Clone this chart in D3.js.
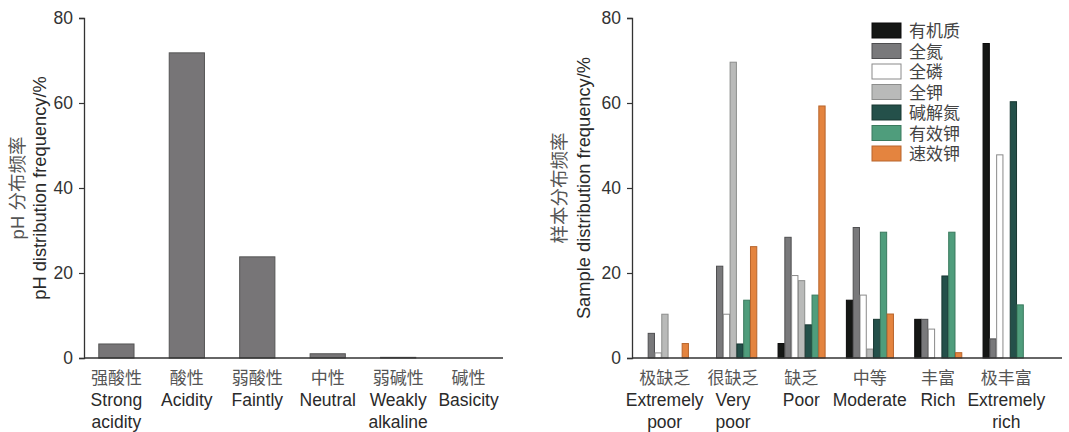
<!DOCTYPE html>
<html><head><meta charset="utf-8">
<script src="https://cdn.jsdelivr.net/npm/d3@7"></script>
<style>
html,body{margin:0;padding:0;background:#fff;}
svg{display:block;}
text{font-family:"Liberation Sans",Arial,"Noto Sans CJK SC",sans-serif;}
.cn{font-family:"Noto Sans CJK SC",sans-serif;}
.leg{font-family:"Liberation Sans","Noto Sans CJK SC",sans-serif;}
</style></head>
<body>
<svg id="chart" width="1069" height="432"></svg>
<script>
// ---------- Data ----------
const pHCategories = ["强酸性","酸性","弱酸性","中性","弱碱性","碱性"];
const pHLabelsEn = [["Strong","acidity"],["Acidity"],["Faintly"],["Neutral"],["Weakly","alkaline"],["Basicity"]];
const pHValues = [3.3, 71.8, 23.8, 1.0, 0.15, 0];

const gradeCategories = ["极缺乏","很缺乏","缺乏","中等","丰富","极丰富"];
const gradeLabelsEn = [["Extremely","poor"],["Very","poor"],["Poor"],["Moderate"],["Rich"],["Extremely","rich"]];
const seriesNames = ["有机质","全氮","全磷","全钾","碱解氮","有效钾","速效钾"];
const organicMatter = [0, 0, 3.4, 13.6, 9.1, 74.0];
const totalN        = [5.8, 21.6, 28.4, 30.7, 9.1, 4.5];
const totalP        = [1.2, 10.3, 19.4, 14.8, 6.8, 47.8];
const totalK        = [10.3, 69.6, 18.2, 2.1, 0, 0];
const alkaliN       = [0, 3.3, 7.8, 9.1, 19.3, 60.3];
const availK        = [0, 13.6, 14.8, 29.6, 29.6, 12.5];
const rapidK        = [3.4, 26.2, 59.3, 10.35, 1.25, 0];
const yTicks = [0, 20, 40, 60, 80];

// ---------- Styles ----------
const seriesValues = [organicMatter, totalN, totalP, totalK, alkaliN, availK, rapidK];
const seriesFill   = ["#151715", "#79797b", "#ffffff", "#b9bab9", "#24504a", "#4f9d7c", "#e4843f"];
const seriesStroke = ["#0a0a0a", "#4e4e50", "#8a8a8a", "#8c8d8c", "#173631", "#3a7a5e", "#b8652c"];

const svg = d3.select("#chart");
const y = d3.scaleLinear().domain([0, 80]).range([358, 18]);

function yAxis(g, x0, titleLines) {
  const ax = g.append("g").attr("transform", `translate(${x0},0)`)
    .call(d3.axisLeft(y).tickValues(yTicks).tickSize(5).tickPadding(6));
  ax.select(".domain").attr("stroke", "#333").attr("stroke-width", 1.3);
  ax.selectAll(".tick line").attr("stroke", "#333").attr("stroke-width", 1.2);
  ax.selectAll(".tick text").attr("fill", "#333").style("font-size", "17.5px")
    .style("font-family", "Liberation Sans, Arial, sans-serif");
  titleLines.forEach(t => {
    g.append("text").attr("transform", `translate(${t.x},188) rotate(-90)`)
      .attr("text-anchor", "middle").attr("fill", t.fill)
      .style("font-size", t.size + "px").text(t.text);
  });
}

function xLabels(g, centers, cn, en) {
  centers.forEach((cx, i) => {
    g.append("text").attr("class", "cn").attr("x", cx).attr("y", 384)
      .attr("text-anchor", "middle").attr("fill", "#555").style("font-size", "17px")
      .text(cn[i]);
    en[i].forEach((line, j) => {
      g.append("text").attr("x", cx).attr("y", 406 + j * 21.5)
        .attr("text-anchor", "middle").attr("fill", "#2a2a2a").style("font-size", "17.5px")
        .text(line);
    });
  });
}

// ---------- Left chart ----------
const gL = svg.append("g");
const xL = d3.scaleBand().domain(pHCategories).range([84, 501]).paddingInner(0.5).paddingOuter(0.21);
gL.selectAll("rect.bar").data(pHValues).enter().append("rect")
  .attr("x", (d, i) => xL(pHCategories[i]))
  .attr("width", xL.bandwidth())
  .attr("y", d => y(d))
  .attr("height", d => y(0) - y(d))
  .attr("fill", "#777577").attr("stroke", "#555").attr("stroke-width", 1);
gL.append("line").attr("x1", 84).attr("x2", 503).attr("y1", y(0)).attr("y2", y(0))
  .attr("stroke", "#333").attr("stroke-width", 1.4);
yAxis(gL, 84, [
  {x: 24, text: "pH 分布频率", fill: "#555", size: 18.5},
  {x: 46, text: "pH distribution frequency/%", fill: "#2a2a2a", size: 18.3}
]);
xLabels(gL, pHCategories.map(c => xL(c) + xL.bandwidth() / 2), pHCategories, pHLabelsEn);

// ---------- Right chart ----------
const gR = svg.append("g");
const x0 = d3.scaleBand().domain(gradeCategories).range([632, 1039]).paddingInner(0.304).paddingOuter(0.13);
const x1 = d3.scaleBand().domain(seriesNames).range([0, x0.bandwidth()]).padding(0);
const groups = gR.selectAll("g.grp").data(gradeCategories).enter().append("g")
  .attr("transform", c => `translate(${x0(c)},0)`);
groups.each(function(c, gi) {
  d3.select(this).selectAll("rect").data(seriesNames.map((s, si) => ({s, si, v: seriesValues[si][gi]})))
    .enter().filter(d => d.v > 0).append("rect")
    .attr("x", d => x1(d.s) + 0.5)
    .attr("width", x1.bandwidth() - 0.5)
    .attr("y", d => y(d.v))
    .attr("height", d => y(0) - y(d.v))
    .attr("fill", d => seriesFill[d.si]).attr("stroke", d => seriesStroke[d.si]).attr("stroke-width", 1);
});
gR.append("line").attr("x1", 632).attr("x2", 1062).attr("y1", y(0)).attr("y2", y(0))
  .attr("stroke", "#333").attr("stroke-width", 1.4);
yAxis(gR, 632, [
  {x: 566, text: "样本分布频率", fill: "#555", size: 18.5},
  {x: 590, text: "Sample distribution frequency/%", fill: "#2a2a2a", size: 18.3}
]);
xLabels(gR, gradeCategories.map(c => x0(c) + x0.bandwidth() / 2), gradeCategories, gradeLabelsEn);

// Legend
const leg = gR.append("g").attr("transform", "translate(872,23)");
seriesNames.forEach((s, i) => {
  leg.append("rect").attr("x", 0).attr("y", i * 20.5).attr("width", 29).attr("height", 15)
    .attr("fill", seriesFill[i]).attr("stroke", seriesStroke[i]).attr("stroke-width", 1);
  leg.append("text").attr("class", "leg").attr("x", 37).attr("y", i * 20.5 + 14)
    .attr("fill", "#444").style("font-size", "17px").text(s);
});
</script>
</body></html>
